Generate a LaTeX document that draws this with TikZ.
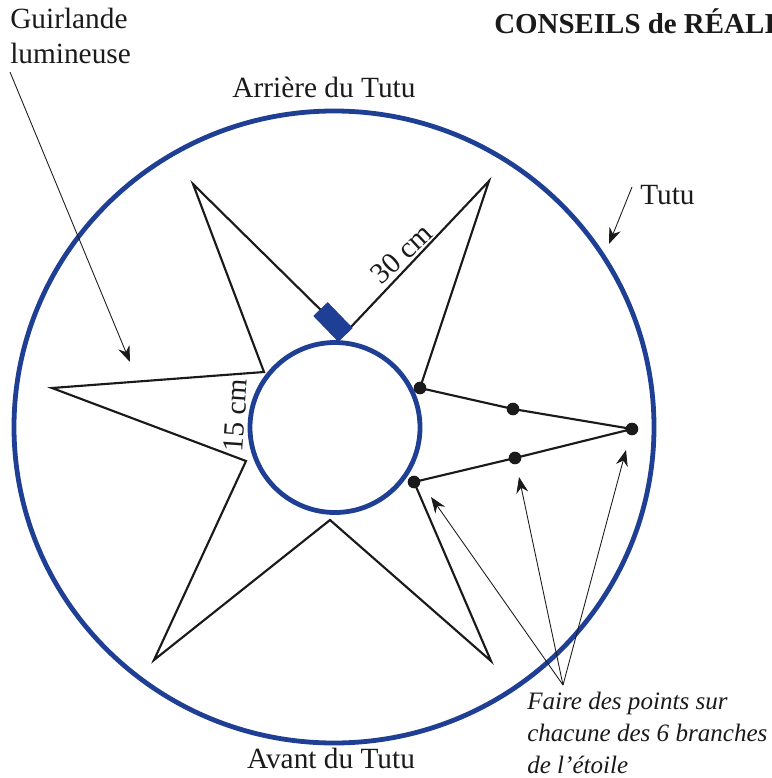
\documentclass[tikz,border=0pt]{standalone}
\usepackage{fontspec}
\setmainfont{Liberation Serif}
\usetikzlibrary{arrows.meta,shapes.geometric}
\definecolor{tutublue}{HTML}{1F3F94}
\definecolor{ink}{HTML}{1A1A1A}
\tikzset{
  ring/.style    ={ellipse, draw=tutublue, line width=3.6pt, inner sep=0pt},
  branch/.style  ={draw=ink, line width=1.6pt, line join=miter},
  pin/.style     ={circle, fill=ink, inner sep=0pt, minimum size=9.5pt},
  lbl/.style     ={font=\fontsize{22}{26}\selectfont, text=ink, inner sep=0pt, align=left},
  leader/.style  ={-{Stealth[length=12pt,width=9pt]}, draw=ink, line width=0.65pt},
}
\begin{document}
\begin{tikzpicture}[x=0.75pt,y=-0.75pt]
\useasboundingbox (0,0) rectangle (771,778);
\node[ring, minimum width=480pt, minimum height=474pt] (tutu) at (334,427) {};
\node[ring, minimum width=127.5pt, minimum height=127.5pt] (waist) at (335,427.5) {};
% star
\coordinate (s1) at (193,184);
\coordinate (s2) at (264,372);
\coordinate (s3) at (52,388);
\coordinate (s4) at (246,461);
\coordinate (s5) at (154,660);
\coordinate (s6) at (330,520);
\coordinate (s7) at (491,661);
\coordinate (s9) at (489,181);
\coordinate (s10) at (350,328);
\coordinate (s11) at (333,322);
\node[pin] (p1) at (420,388) {};
\node[pin] (p2) at (513,409) {};
\node[pin] (p3) at (632,429) {};
\node[pin] (p4) at (515,458) {};
\node[pin] (p5) at (414,482) {};
\draw[branch] (s11) -- (s1) -- (s2) -- (s3) -- (s4) -- (s5) -- (s6) -- (s7) -- (p5.center) -- (p4.center) -- (p3.center)
  -- (p2.center) -- (p1.center) -- (s9) -- (s10);
\node[fill=tutublue, minimum width=27pt, minimum height=15pt, inner sep=0pt, rotate=-46] (knot) at (s11) {};
% labels
\node[lbl, anchor=base west] (guirlande) at (10,63) {Guirlande\\lumineuse};
\node[lbl, font=\fontsize{21.7}{26}\selectfont\bfseries, anchor=base west] (conseils) at (494,33) {CONSEILS de RÉALI};
\node[lbl, anchor=base] (arriere) at (324,97) {Arrière du Tutu};
\node[lbl, anchor=base] (avant) at (331,768) {Avant du Tutu};
\node[lbl, anchor=base west] (tutulbl) at (640,204) {Tutu};
\node[lbl, anchor=base, rotate=43] (long) at (408,261) {30 cm};
\node[lbl, anchor=base, rotate=86] (short) at (245,416) {15 cm};
\node[lbl, font=\fontsize{18.8}{24}\selectfont\itshape, anchor=base west] (faire) at (527,773) {Faire des points sur\\chacune des 6 branches\\de l’étoile};
% leaders
\coordinate (gstart) at (10,72);
\coordinate (gend) at (130,362);
\coordinate (tstart) at (632,187);
\coordinate (tend) at (609,244);
\coordinate (fstart) at (563,685);
\coordinate (f1) at (431,497);
\coordinate (f2) at (519,477);
\coordinate (f3) at (626,450);
\draw[leader] (gstart) -- (gend);
\draw[leader] (tstart) -- (tend);
\foreach \f in {f1,f2,f3} { \draw[leader] (fstart) -- (\f); }
\end{tikzpicture}
\end{document}
